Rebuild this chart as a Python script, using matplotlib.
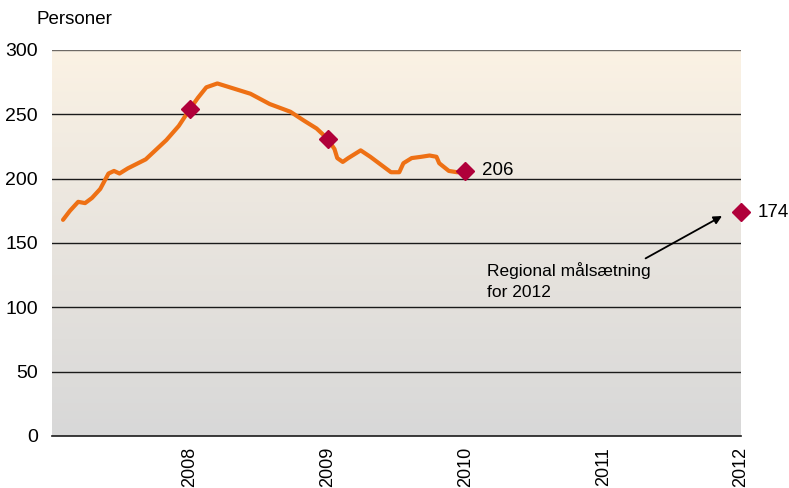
import matplotlib
matplotlib.use("Agg")
import matplotlib.pyplot as plt
import numpy as np
from matplotlib.colors import LinearSegmentedColormap

plt.rcParams['font.family'] = ['Liberation Sans', 'DejaVu Sans']

# monthly-ish curve
years = [2007.08, 2007.13, 2007.19, 2007.24, 2007.29, 2007.35, 2007.41, 2007.45,
         2007.49, 2007.55, 2007.68, 2007.76, 2007.83, 2007.92, 2008.00, 2008.06,
         2008.12, 2008.20, 2008.29, 2008.44, 2008.58, 2008.73, 2008.83, 2008.92,
         2009.00, 2009.05, 2009.07, 2009.11, 2009.15, 2009.24, 2009.31, 2009.41,
         2009.46, 2009.52, 2009.55, 2009.61, 2009.68, 2009.74, 2009.79, 2009.81,
         2009.88, 2009.94, 2010.00]
persons = [168, 175, 182, 181, 185, 192, 204, 206,
           204, 208, 215, 223, 230, 241, 254, 263,
           271, 274, 271, 266, 258, 252, 245, 239,
           231, 223, 216, 213, 216, 222, 217, 209,
           205, 205, 212, 216, 217, 218, 217, 212,
           206, 205, 206]

marker_years = [2008, 2009, 2010, 2012]
marker_values = [254, 231, 206, 174]
tick_years = [2008, 2009, 2010, 2011, 2012]
y_ticks = [0, 50, 100, 150, 200, 250, 300]

fig = plt.figure(figsize=(7.89, 4.88), dpi=100)
ax = fig.add_axes([52 / 789, 52 / 488, 689 / 789, 386 / 488])

# gradient background: peach at top, grey at bottom
cmap = LinearSegmentedColormap.from_list('bg', ['#D8D8D8', '#E8E4DE', '#FBF2E4'])
grad = np.linspace(0, 1, 256).reshape(-1, 1)
ax.imshow(grad, cmap=cmap, aspect='auto', origin='lower',
          extent=[2007, 2012, 0, 300], zorder=0)

for v in y_ticks[1:]:
    col = '#6E6A66' if v == 300 else '#1A1A1A'
    ax.axhline(v, color=col, linewidth=1.0, zorder=1)

ax.plot(years, persons, color='#EE7014', linewidth=3.0, solid_capstyle='round',
        solid_joinstyle='round', zorder=2)
ax.plot(marker_years, marker_values, linestyle='none', marker='D', markersize=9,
        color='#B0003A', zorder=3, clip_on=False)

ax.text(2010.12, 206, '206', fontsize=13.5, va='center', ha='left')
ax.text(2012.12, 174, '174', fontsize=13.5, va='center', ha='left', clip_on=False)

ax.annotate('', xy=(2011.88, 172), xytext=(2011.29, 137),
            arrowprops=dict(arrowstyle='-|>', color='black', lw=1.3,
                            mutation_scale=12))
ax.text(2010.16, 135, 'Regional målsætning\nfor 2012', fontsize=12.5,
        va='top', ha='left', linespacing=1.45)

ax.set_xlim(2007, 2012)
ax.set_ylim(0, 300)
ax.set_xticks(tick_years)
ax.set_xticklabels([str(y) for y in tick_years], rotation=90, fontsize=13)
ax.set_yticks(y_ticks)
ax.set_yticklabels([str(v) for v in y_ticks], fontsize=14)
ax.tick_params(length=0, pad=10)
ax.tick_params(axis='x', pad=8)
for side in ['left', 'right', 'top']:
    ax.spines[side].set_visible(False)
ax.spines['bottom'].set_color('#1A1A1A')
ax.spines['bottom'].set_linewidth(1.2)

fig.text(37 / 789, 1 - 19 / 488, 'Personer', fontsize=13.5, va='center', ha='left')

fig.savefig('out.png', dpi=100)
